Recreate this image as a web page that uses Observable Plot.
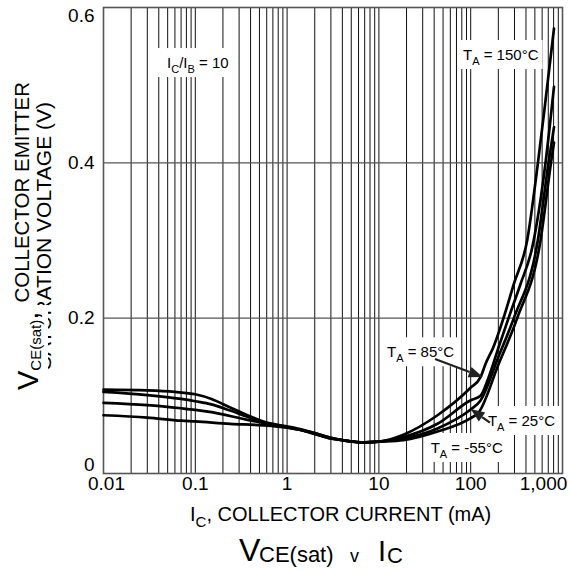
<!DOCTYPE html>
<html><head><meta charset="utf-8">
<script src="https://cdn.jsdelivr.net/npm/d3@7"></script>
<script src="https://cdn.jsdelivr.net/npm/@observablehq/plot@0.6"></script>
<style>body{margin:0;background:#fff} svg{display:block}</style>
</head><body><div id="chart"></div>
<script>
const FONT = "'Liberation Sans', Arial, Helvetica, sans-serif";

// Tick values and labels
const xTickValues = [0.01, 0.1, 1, 10, 100, 1000];
const xTickLabels = ["0.01", "0.1", "1", "10", "100", "1,000"];
const yTickValues = [0, 0.2, 0.4, 0.6];
const yTickLabels = ["0", "0.2", "0.4", "0.6"];
const xGridDecades = [0.01, 0.1, 1, 10, 100];
const xGridMultipliers = [1, 2, 3, 4, 5, 6, 7, 8, 9];
const xGrid = xGridDecades.flatMap(d => xGridMultipliers.map(m => +(d * m).toPrecision(3))).concat([1000]);

// Series (IC in mA, VCE(sat) in V)
const t150I = [0.01,0.03,0.06,0.1,0.15,0.24,0.37,0.55,0.85,1.3,2,3,4.5,7,10,18.5,43.5,99,128,145,177,229,295,412,540,653,808];
const t150V = [0.108,0.107,0.105,0.102,0.096,0.085,0.075,0.067,0.062,0.058,0.052,0.046,0.042,0.040,0.041,0.050,0.075,0.110,0.124,0.141,0.163,0.201,0.244,0.300,0.400,0.480,0.573];
const t85I = [0.01,0.03,0.07,0.1,0.15,0.24,0.37,0.55,0.85,1.3,2,3,4.5,7,10,18.5,43.5,99,128,157,202,260,349,468,653,808];
const t85V = [0.105,0.101,0.096,0.093,0.089,0.081,0.073,0.066,0.061,0.057,0.051,0.045,0.042,0.040,0.041,0.047,0.064,0.094,0.100,0.124,0.163,0.201,0.244,0.291,0.400,0.498];
const t25I = [0.01,0.03,0.07,0.1,0.15,0.24,0.37,0.55,0.85,1.3,2,3,4.5,7,10,18.5,43.5,99,128,200,295,538,704,808];
const t25V = [0.091,0.088,0.084,0.082,0.079,0.074,0.069,0.065,0.061,0.057,0.051,0.045,0.042,0.040,0.041,0.045,0.058,0.082,0.094,0.150,0.200,0.300,0.400,0.446];
const tm55I = [0.01,0.03,0.07,0.1,0.24,0.55,1,2,3,4.5,7,10,18.5,43.5,99,122,200,321,576,749,808];
const tm55V = [0.075,0.072,0.068,0.067,0.064,0.062,0.059,0.052,0.046,0.042,0.040,0.041,0.043,0.054,0.071,0.0785,0.140,0.200,0.300,0.400,0.426];

const series = [
  {T: "150", I: t150I, V: t150V},
  {T: "85", I: t85I, V: t85V},
  {T: "25", I: t25I, V: t25V},
  {T: "-55", I: tm55I, V: tm55V}
];
const rows = series.flatMap(s => s.I.map((I, i) => ({T: s.T, I, V: s.V[i]})));

// Annotations (anchored in data coordinates)
const notes = [
  {parts: [["I",""],["C","sub"],["/I",""],["B","sub"],[" = 10",""]], I: 0.0498, V: 0.5214, padL: 9},
  {parts: [["T",""],["A","sub"],[" = 150°C",""]], I: 83.5, V: 0.5317, padL: 3},
  {parts: [["T",""],["A","sub"],[" = 85°C",""]], I: 12.4, V: 0.149, padL: 4},
  {parts: [["T",""],["A","sub"],[" = 25°C",""]], I: 156, V: 0.0605, padL: 3},
  {parts: [["T",""],["A","sub"],[" = -55°C",""]], I: 37.1, V: 0.0258, padL: 5}
];
const arrows = [
  {I1: 41.4, V1: 0.1468, I2: 136.8, V2: 0.1236},
  {I1: 164, V1: 0.0648, I2: 101, V2: 0.0824}
];

const chart = Plot.plot({
  width: 568, height: 571,
  marginTop: 7, marginRight: 6, marginBottom: 98, marginLeft: 103,
  style: {fontFamily: FONT, background: "#fff", color: "#000"},
  x: {type: "log", domain: [0.01, 1000], axis: null},
  y: {domain: [0, 0.6], axis: null},
  marks: [
    Plot.ruleX(xGrid, {x: d => d, stroke: "#111", strokeWidth: 1}),
    Plot.ruleY([0.2, 0.4], {stroke: "#555", strokeWidth: 1.3}),
    Plot.frame({stroke: "#555", strokeWidth: 1.6}),
    Plot.line(rows, {x: "I", y: "V", z: "T", stroke: "#000", strokeWidth: 2.7, curve: "monotone-x"}),
    // x tick labels
    Plot.text([1, 2, 3, 4], {x: i => xTickValues[i], text: i => xTickLabels[i], frameAnchor: "bottom", dy: 16, fontSize: 19, fill: "#000"}),
    Plot.text([0], {x: i => xTickValues[i], text: i => xTickLabels[i], frameAnchor: "bottom", dy: 16, dx: 3, fontSize: 19, fill: "#000"}),
    Plot.text([5], {x: i => xTickValues[i], text: i => xTickLabels[i], frameAnchor: "bottom", dy: 16, dx: -19, fontSize: 19, fill: "#000"}),
    // y tick labels
    Plot.text([1, 2], {y: i => yTickValues[i], text: i => yTickLabels[i], frameAnchor: "left", dx: -9, textAnchor: "end", fontSize: 19, fill: "#000"}),
    Plot.text([3], {y: i => yTickValues[i], text: i => yTickLabels[i], frameAnchor: "left", dx: -9, dy: 8, textAnchor: "end", fontSize: 19, fill: "#000"}),
    Plot.text([0], {y: i => yTickValues[i], text: i => yTickLabels[i], frameAnchor: "left", dx: -9, dy: -9, textAnchor: "end", fontSize: 19, fill: "#000"})
  ]
});
document.getElementById("chart").appendChild(chart);

const sx = chart.scale("x"), sy = chart.scale("y");
const svg = d3.select(chart);
const lineG = svg.select('g[aria-label="line"]').node();
const boxG = svg.insert("g", () => lineG);
const noteG = svg.append("g").attr("font-family", FONT).attr("fill", "#000").attr("text-anchor", "start");

function addRich(g, parts, x, y, size, subSize, subDy) {
  const t = g.append("text").attr("x", x).attr("y", y).attr("font-size", size)
    .attr("text-anchor", "start").style("white-space", "pre");
  let shift = 0;
  parts.forEach(([s, k]) => {
    const sp = t.append("tspan").text(s);
    if (k === "sub") { sp.attr("font-size", subSize).attr("dy", subDy - shift); shift = subDy; }
    else { sp.attr("dy", -shift); shift = 0; }
  });
  return t;
}

notes.forEach(n => {
  const x = sx.apply(n.I), y = sy.apply(n.V);
  const t = addRich(noteG, n.parts, x, y, 15, 11, 5);
  const bb = t.node().getBBox();
  boxG.append("rect").attr("x", bb.x - n.padL).attr("y", y - 20)
    .attr("width", bb.width + n.padL + 4).attr("height", 29).attr("fill", "#fff");
});

arrows.forEach(a => {
  const x1 = sx.apply(a.I1), y1 = sy.apply(a.V1), x2 = sx.apply(a.I2), y2 = sy.apply(a.V2);
  const ang = Math.atan2(y2 - y1, x2 - x1);
  const L = 14, Wd = 5.5;
  const bx = x2 - L * Math.cos(ang), by = y2 - L * Math.sin(ang);
  noteG.append("line").attr("x1", x1).attr("y1", y1).attr("x2", bx).attr("y2", by)
    .attr("stroke", "#222").attr("stroke-width", 2.2);
  const px = -Math.sin(ang) * Wd, py = Math.cos(ang) * Wd;
  noteG.append("path").attr("d", `M${x2},${y2}L${bx + px},${by + py}L${bx - px},${by - py}Z`).attr("fill", "#222");
});

// Y axis label
const yl = svg.append("g").attr("font-family", FONT).attr("fill", "#000");
yl.append("text").attr("transform", "translate(51,102) rotate(-90)").attr("text-anchor", "end")
  .attr("font-size", 21).text("SATURATION VOLTAGE (V)");
yl.append("text").attr("transform", "translate(29,82) rotate(-90)").attr("text-anchor", "end")
  .attr("font-size", 20.5).text("COLLECTOR EMITTER");
yl.append("rect").attr("x", 14).attr("y", 305).attr("width", 34).attr("height", 93).attr("fill", "#fff");
addRich(yl, [["V",""],["CE(sat)","sub"],[",",""]], 0, 0, 29, 15, 3).attr("transform", "translate(38,390) rotate(-90)");

// X axis label
const xl = svg.append("g").attr("font-family", FONT).attr("fill", "#000").attr("text-anchor", "start");
addRich(xl, [["I",""],["C","sub"],[", COLLECTOR CURRENT (mA)",""]], 190, 521, 20, 15, 6);

// Title
const tt = svg.append("g").attr("font-family", FONT).attr("fill", "#000").attr("text-anchor", "start");
tt.append("text").attr("x", 239).attr("y", 561).attr("font-size", 32).text("V");
tt.append("text").attr("x", 259).attr("y", 562).attr("font-size", 22).text("CE(sat)");
tt.append("text").attr("x", 350).attr("y", 562).attr("font-size", 18).text("v");
tt.append("text").attr("x", 378).attr("y", 561).attr("font-size", 29).text("I");
tt.append("text").attr("x", 387).attr("y", 563).attr("font-size", 22).text("C");
</script>
</body></html>
